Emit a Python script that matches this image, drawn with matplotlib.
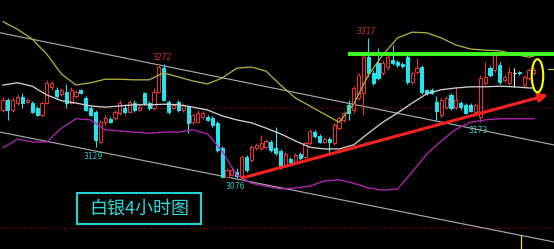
import matplotlib
matplotlib.use("Agg")
import matplotlib.pyplot as plt
from matplotlib.patches import Rectangle, Ellipse

# ---------- K线数据（4小时，自图中读取） ----------
opens = [3193, 3210, 3193, 3205, 3215, 3207, 3205, 3196, 3184, 3205,
         3233, 3228, 3221, 3224, 3205, 3217, 3228, 3214, 3196, 3190,
         3138, 3172, 3178, 3179, 3188, 3196, 3190, 3205, 3193, 3222,
         3205, 3196, 3224, 3265, 3207, 3196, 3207, 3193, 3198, 3172,
         3172, 3181, 3181, 3179, 3171, 3128, 3078, 3081, 3086, 3080,
         3112, 3107, 3128, 3128, 3129, 3138, 3128, 3122, 3097, 3109,
         3104, 3117, 3112, 3136, 3155, 3148, 3138, 3143, 3136, 3162,
         3176, 3202, 3193, 3214, 3222, 3284, 3257, 3274, 3257, 3267,
         3279, 3276, 3272, 3284, 3241, 3258, 3267, 3228, 3228, 3207,
         3184, 3198, 3219, 3198, 3205, 3202, 3202, 3190, 3181, 3240,
         3265, 3262, 3270, 3245, 3240, 3257, 3258, 3236, 3248, 3257]
highs = [3215, 3214, 3215, 3221, 3222, 3214, 3209, 3200, 3209, 3245,
         3243, 3233, 3231, 3238, 3233, 3228, 3229, 3217, 3200, 3193,
         3176, 3184, 3181, 3193, 3210, 3203, 3210, 3210, 3202, 3224,
         3209, 3231, 3270, 3272, 3210, 3205, 3210, 3205, 3202, 3188,
         3193, 3191, 3184, 3183, 3174, 3131, 3093, 3093, 3093, 3116,
         3116, 3133, 3136, 3150, 3143, 3141, 3164, 3126, 3121, 3112,
         3119, 3121, 3140, 3160, 3159, 3152, 3147, 3147, 3171, 3183,
         3191, 3210, 3234, 3257, 3293, 3317, 3262, 3300, 3279, 3293,
         3305, 3279, 3276, 3288, 3260, 3283, 3270, 3229, 3231, 3217,
         3214, 3217, 3222, 3231, 3209, 3205, 3205, 3205, 3253, 3276,
         3269, 3293, 3276, 3253, 3267, 3265, 3260, 3253, 3265, 3267]
lows = [3190, 3176, 3190, 3202, 3196, 3203, 3188, 3183, 3181, 3203,
        3228, 3212, 3217, 3196, 3203, 3214, 3221, 3191, 3183, 3129,
        3136, 3167, 3171, 3176, 3184, 3186, 3188, 3190, 3191, 3202,
        3193, 3193, 3222, 3209, 3186, 3193, 3190, 3190, 3153, 3169,
        3171, 3178, 3174, 3164, 3121, 3078, 3077, 3080, 3076, 3077,
        3086, 3104, 3124, 3124, 3126, 3121, 3116, 3092, 3095, 3100,
        3100, 3107, 3110, 3133, 3145, 3136, 3136, 3119, 3133, 3159,
        3172, 3176, 3188, 3210, 3184, 3250, 3236, 3245, 3253, 3262,
        3270, 3267, 3265, 3238, 3238, 3255, 3221, 3219, 3221, 3176,
        3181, 3195, 3193, 3195, 3193, 3186, 3190, 3188, 3173, 3236,
        3250, 3258, 3238, 3241, 3236, 3233, 3253, 3233, 3245, 3253]
closes = [3210, 3193, 3210, 3215, 3205, 3210, 3190, 3184, 3205, 3240,
          3240, 3217, 3228, 3205, 3228, 3224, 3222, 3193, 3184, 3141,
          3172, 3179, 3172, 3190, 3205, 3190, 3207, 3193, 3198, 3205,
          3196, 3224, 3267, 3210, 3190, 3202, 3193, 3202, 3171, 3184,
          3188, 3188, 3176, 3167, 3124, 3078, 3090, 3090, 3080, 3112,
          3090, 3129, 3133, 3136, 3140, 3124, 3119, 3095, 3117, 3104,
          3116, 3110, 3136, 3157, 3148, 3138, 3143, 3138, 3167, 3179,
          3188, 3188, 3231, 3253, 3284, 3257, 3240, 3248, 3274, 3284,
          3274, 3270, 3269, 3241, 3257, 3265, 3224, 3222, 3222, 3191,
          3210, 3214, 3196, 3210, 3198, 3188, 3191, 3202, 3248, 3250,
          3253, 3288, 3241, 3250, 3258, 3257, 3257, 3250, 3262, 3262]

# ---------- 布林带（每3根采样） ----------
band_idx = [0, 3, 6, 9, 12, 15, 18, 21, 24, 27, 30, 33, 36, 39, 42, 45, 48, 51, 54,
            57, 60, 63, 66, 69, 72, 75, 78, 81, 84, 87, 90, 93, 96, 99, 102, 105, 108, 109]
boll_up = [3345, 3332, 3315, 3289, 3255, 3236, 3240, 3246, 3246, 3245, 3245, 3257, 3250,
           3243, 3238, 3248, 3265, 3267, 3260, 3236, 3214, 3200, 3186, 3172, 3203, 3253,
           3288, 3317, 3327, 3326, 3317, 3305, 3298, 3296, 3295, 3289, 3284, 3286]
boll_mid = [3236, 3240, 3234, 3219, 3209, 3205, 3200, 3198, 3200, 3202, 3202, 3203, 3202,
            3198, 3193, 3183, 3176, 3171, 3162, 3152, 3140, 3129, 3126, 3126, 3133, 3153,
            3172, 3188, 3205, 3221, 3228, 3231, 3233, 3233, 3234, 3233, 3231, 3231]
boll_dn = [3128, 3143, 3138, 3138, 3162, 3178, 3176, 3159, 3157, 3155, 3153, 3155, 3155,
           3159, 3152, 3122, 3081, 3067, 3062, 3057, 3059, 3062, 3071, 3073, 3067, 3059,
           3055, 3057, 3086, 3117, 3140, 3160, 3172, 3176, 3178, 3178, 3178, 3178]

# ---------- 画线（通道、支撑、压力） ----------
chan_x = [-0.6, 113.1]
chan_top = [3326, 3133]
chan_bot = [3155, 2966]
resist_x = [71.3, 113.1]
resist_y = 3290
trend_x = [49.1, 111.9]
trend_y = [3076, 3219]
dot_lines = [(7.6, 3196), (-0.6, 2990)]

# 标注价位: (K线序号, 高/低点)
marks_high = [33, 75]
marks_low = [19, 48, 98]

RED = "#e83232"
CYAN = "#22e4ee"

fig = plt.figure(figsize=(5.54, 2.49), dpi=100)
fig.patch.set_facecolor("black")
ax = fig.add_axes([0, 0, 1, 1])
ax.set_facecolor("black")
ax.set_xlim(-0.616, 113.14)
ax.set_ylim(2953.8, 3382.4)
ax.axis("off")

# 红色虚线
for x0, y in dot_lines:
    ax.plot([x0, 113.1], [y, y], color="#a01010", lw=0.8, ls=(0, (1, 2)), zorder=1)

# 通道线
ax.plot(chan_x, chan_top, color="#a8a8a8", lw=0.85, zorder=1)
ax.plot(chan_x, chan_bot, color="#a8a8a8", lw=0.85, zorder=1)

# K线
w = 0.64
for i, (o, h, l, c) in enumerate(zip(opens, highs, lows, closes)):
    if c > o:
        col, face = RED, "black"
    elif c < o:
        col, face = CYAN, CYAN
    else:
        col, face = "white", "white"
    ax.vlines(i, l, h, color=col, lw=0.8, zorder=2)
    if c == o:
        ax.hlines(o, i - w / 2, i + w / 2, color=col, lw=0.8, zorder=3)
    else:
        ax.add_patch(Rectangle((i - w / 2, min(o, c)), w, abs(c - o),
                               facecolor=face, edgecolor=col, lw=0.75, zorder=3))

# 布林带
ax.plot(band_idx, boll_up, color="#b0b03a", lw=0.95, zorder=4)
ax.plot(band_idx, boll_mid, color="#cfcfcf", lw=0.95, zorder=4)
ax.plot(band_idx, boll_dn, color="#b424b4", lw=0.95, zorder=4)

# 压力线（绿）
ax.plot(resist_x, [resist_y, resist_y], color="#40ff20", lw=2.8, zorder=5)

# 支撑线（红箭头）
ax.annotate("", xy=(trend_x[1], trend_y[1]), xytext=(trend_x[0], trend_y[0]),
            arrowprops=dict(arrowstyle="-|>,head_length=0.5,head_width=0.25",
                            color="#ff2020", lw=2.2, shrinkA=0, shrinkB=0),
            zorder=6)

# 黄色圈
ax.add_patch(Ellipse((109.75, 3252), 2.36, 57, fill=False,
                     edgecolor="#ffff00", lw=1.5, zorder=6))
ax.plot([111.9, 113.1], [3264, 3264], color="#c0c040", lw=0.9, zorder=6)
ax.vlines(106.4, 2954, 2978, color="#e0e020", lw=0.9, zorder=6)

# 高低点价位
for i in marks_high:
    ax.annotate(str(highs[i]), xy=(i, highs[i]), xytext=(-1.5, 1.2),
                textcoords="offset points", ha="center", va="bottom",
                fontsize=5.5, color="#d83030", zorder=7)
for i in marks_low:
    ax.annotate(str(lows[i]), xy=(i, lows[i]), xytext=(-1.5, -3.2),
                textcoords="offset points", ha="center", va="top",
                fontsize=5.5, color="#30c8cc", zorder=7)

# 标题框
ax.add_patch(Rectangle((0.139, 0.1), 0.224, 0.125, transform=ax.transAxes,
                       fill=False, edgecolor="#20d4d4", lw=1.5, zorder=7))
ax.text(0.251, 0.163, "白银4小时图", transform=ax.transAxes, ha="center", va="center",
        fontsize=13, color="#28dcdc", family=["Noto Sans CJK SC", "DejaVu Sans"], zorder=8)

fig.savefig("out.png", dpi=100, facecolor="black")
